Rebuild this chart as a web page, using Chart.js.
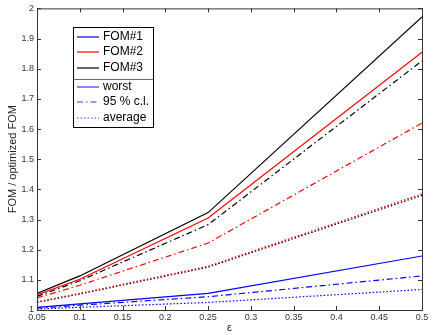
<!DOCTYPE html>
<html>
<head>
<meta charset="utf-8">
<script src="https://cdn.jsdelivr.net/npm/chart.js@4"></script>
<style>
  html, body { margin: 0; padding: 0; background: #fff; }
  #wrap { width: 436px; height: 335px; }
</style>
</head>
<body>
<div id="wrap"><canvas id="fomChart" width="436" height="335"></canvas></div>
<script>
// x values (epsilon)
var eps = [0.05, 0.1, 0.25, 0.5];

// FOM#1 (blue)
var fom1Worst = [1.009, 1.020, 1.055, 1.179];
var fom1Cl95  = [1.006, 1.016, 1.044, 1.113];
var fom1Avg   = [1.003, 1.009, 1.025, 1.068];
// FOM#2 (red)
var fom2Worst = [1.050, 1.102, 1.305, 1.855];
var fom2Cl95  = [1.040, 1.082, 1.222, 1.620];
var fom2Avg   = [1.027, 1.055, 1.145, 1.385];
// FOM#3 (black)
var fom3Worst = [1.055, 1.113, 1.323, 1.972];
var fom3Cl95  = [1.045, 1.097, 1.283, 1.826];
var fom3Avg   = [1.025, 1.053, 1.142, 1.380];

var fomLabels = ["FOM#1", "FOM#2", "FOM#3"];
var statLabels = ["worst", "95 % c.l.", "average"];

var xTicks = [0.05, 0.1, 0.15, 0.2, 0.25, 0.3, 0.35, 0.4, 0.45, 0.5];
var yTicks = [1, 1.1, 1.2, 1.3, 1.4, 1.5, 1.6, 1.7, 1.8, 1.9, 2];

var colors = ["#0000ff", "#ff0000", "#000000"];
var dashes = [[], [6, 3, 1.5, 3], [1.5, 2]];

function pts(ys) {
    return eps.map(function(x, i) { return {x: x, y: ys[i]}; });
}

function makeSet(label, ys, color, dash) {
    return {
        label: label,
        data: pts(ys),
        borderColor: color,
        borderWidth: 1.2,
        borderDash: dash,
        pointRadius: 0,
        fill: false,
        tension: 0
    };
}

var series = [
    [fom1Worst, fom1Cl95, fom1Avg],
    [fom2Worst, fom2Cl95, fom2Avg],
    [fom3Worst, fom3Cl95, fom3Avg]
];

var datasets = [];
for (var f = 0; f < 3; f++) {
    for (var s = 0; s < 3; s++) {
        datasets.push(makeSet(fomLabels[f] + " " + statLabels[s], series[f][s], colors[f], dashes[s]));
    }
}

// matlab style frame with inward ticks + legend box
var framePlugin = {
    id: 'frame',
    afterDatasetsDraw: function(chart) {
        var ctx = chart.ctx;
        var a = chart.chartArea;
        var xs = chart.scales.x, ys = chart.scales.y;
        ctx.save();
        ctx.strokeStyle = "#333";
        ctx.lineWidth = 1;
        ctx.strokeRect(a.left + 0.5, a.top + 0.5, a.right - a.left, a.bottom - a.top);
        var t = 4;
        ctx.beginPath();
        xTicks.forEach(function(v) {
            var px = Math.round(xs.getPixelForValue(v)) + 0.5;
            ctx.moveTo(px, a.bottom); ctx.lineTo(px, a.bottom - t);
            ctx.moveTo(px, a.top); ctx.lineTo(px, a.top + t);
        });
        yTicks.forEach(function(v) {
            var py = Math.round(ys.getPixelForValue(v)) + 0.5;
            ctx.moveTo(a.left, py); ctx.lineTo(a.left + t, py);
            ctx.moveTo(a.right, py); ctx.lineTo(a.right - t, py);
        });
        ctx.stroke();

        // legend
        var lx = 73, ly = 27, lw = 80, lh = 100;
        ctx.fillStyle = "#fff";
        ctx.fillRect(lx, ly, lw, lh);
        ctx.strokeStyle = "#000";
        ctx.strokeRect(lx + 0.5, ly + 0.5, lw, lh);
        ctx.beginPath();
        ctx.moveTo(lx, 79.5); ctx.lineTo(lx + lw, 79.5);
        ctx.strokeStyle = "#666";
        ctx.stroke();
        ctx.font = "12px 'Liberation Sans', Arial, sans-serif";
        ctx.textBaseline = "middle";
        var rows = [37, 52, 68, 87, 102, 118];
        for (var i = 0; i < 6; i++) {
            var y = rows[i];
            ctx.beginPath();
            ctx.strokeStyle = i < 3 ? colors[i] : "#3a3aff";
            ctx.lineWidth = 1.2;
            ctx.setLineDash(i < 3 ? [] : dashes[i - 3]);
            ctx.moveTo(77, y); ctx.lineTo(99, y);
            ctx.stroke();
            ctx.setLineDash([]);
            ctx.fillStyle = "#000";
            ctx.fillText(i < 3 ? fomLabels[i] : statLabels[i - 3], 103, y);
        }
        ctx.restore();
    }
};

var tickFont = { family: "'Liberation Sans', Arial, sans-serif", size: 9 };

var config = {
    type: 'line',
    data: { datasets: datasets },
    options: {
        responsive: false,
        animation: false,
        layout: { padding: { top: 6, right: 14, left: 0, bottom: 0 } },
        plugins: { legend: { display: false }, tooltip: { enabled: false } },
        scales: {
            x: {
                type: 'linear',
                min: 0.05,
                max: 0.5,
                afterBuildTicks: function(scale) {
                    scale.ticks = xTicks.map(function(v) { return {value: v}; });
                },
                afterFit: function(scale) { scale.height = 25; },
                ticks: {
                    font: tickFont,
                    color: "#333",
                    padding: 2,
                    maxRotation: 0,
                    autoSkip: false,
                    callback: function(v) { return String(+v.toFixed(2)); }
                },
                grid: { display: false, drawTicks: false },
                border: { display: false },
                title: {
                    display: true,
                    text: "\u03b5",
                    font: { family: "'Liberation Sans', Arial, sans-serif", size: 11 },
                    color: "#222",
                    padding: { top: 0, bottom: 0 }
                }
            },
            y: {
                min: 1,
                max: 2,
                afterBuildTicks: function(scale) {
                    scale.ticks = yTicks.map(function(v) { return {value: v}; });
                },
                afterFit: function(scale) { scale.width = 37; },
                ticks: {
                    font: tickFont,
                    color: "#333",
                    padding: 3,
                    autoSkip: false,
                    callback: function(v) { return String(+v.toFixed(1)); }
                },
                grid: { display: false, drawTicks: false },
                border: { display: false },
                title: {
                    display: true,
                    text: "FOM / optimized FOM",
                    font: { family: "'Liberation Sans', Arial, sans-serif", size: 11 },
                    color: "#222",
                    padding: { top: 6, bottom: 0 }
                }
            }
        }
    },
    plugins: [framePlugin]
};

var ctx = document.getElementById("fomChart");
var fomChart = new Chart(ctx, config);
</script>
</body>
</html>
